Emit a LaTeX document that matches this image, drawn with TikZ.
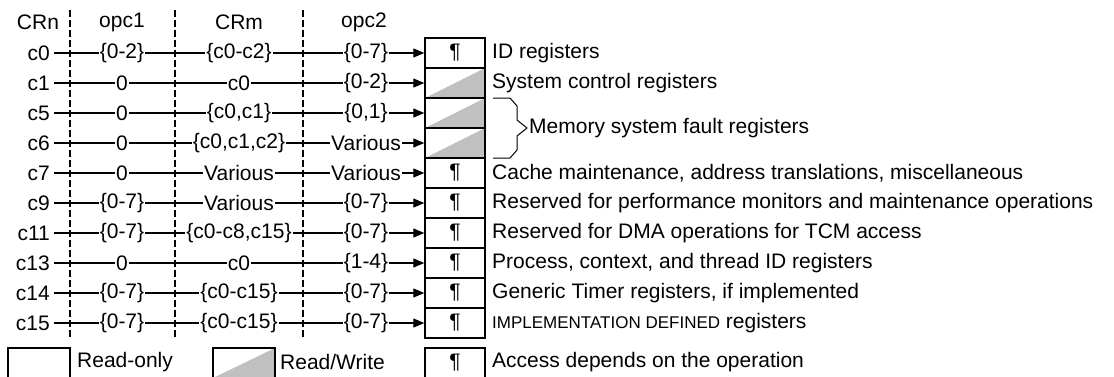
\documentclass[tikz,border=0pt]{standalone}
\usepackage{fontspec}
\setmainfont{Liberation Sans}
\usetikzlibrary{arrows.meta}
\definecolor{rwgray}{RGB}{192,192,192}
\newcommand\regrow[7]{%
  \node[rowlab] (#1) at (54,#2) {#1};
  \node[lab] (#1a) at (122,#2) {#3};
  \node[lab] (#1b) at (239,#2) {#4};
  \node[lab] (#1c) at (366,#2) {#5};
  \node[#6] (#1x) at (455,#2) {#7};
  \draw[conn] (#1) -- (#1a);
  \draw[conn] (#1a) -- (#1b);
  \draw[conn] (#1b) -- (#1c);
  \draw[conn,-{Triangle[length=11pt,width=9pt]}] (#1c) -- (#1x);
}
\begin{document}
\begin{tikzpicture}[x=1pt,y=-1pt,
  every node/.style={font=\fontsize{21}{24}\selectfont},
  rowlab/.style={anchor=east,inner xsep=4pt,inner ysep=0pt},
  lab/.style={inner xsep=1pt,inner ysep=0pt},
  head/.style={inner sep=0pt},
  conn/.style={line width=1.2pt},
  regbox/.style={draw,line width=1.4pt,minimum width=60pt,minimum height=30pt,inner sep=0pt},
  pbox/.style={regbox},
  rwbox/.style={regbox,path picture={\fill[rwgray] (path picture bounding box.south west) -- (path picture bounding box.north east) -- (path picture bounding box.south east) -- cycle;}},
  desc/.style={anchor=west,inner xsep=2pt,inner ysep=0pt},
  sep/.style={line width=2.4pt,dash pattern=on 7pt off 3pt},
]
\useasboundingbox (0,0) rectangle (1114,376);
% column separators
\coordinate (s1t) at (70,9.5);  \coordinate (s1b) at (70,336.5);
\coordinate (s2t) at (175,9.5); \coordinate (s2b) at (175,336.5);
\coordinate (s3t) at (303,9.5); \coordinate (s3b) at (303,336.5);
\draw[sep] (s1t) -- (s1b);
\draw[sep] (s2t) -- (s2b);
\draw[sep] (s3t) -- (s3b);
% headers
\node[head] (hCRn) at (38,22) {CRn};
\node[head] (hopc1) at (122,22) {opc1};
\node[head] (hCRm) at (239,22) {CRm};
\node[head] (hopc2) at (364,22) {opc2};
% rows
\regrow{c0}{53}{\{0-2\}}{\{c0-c2\}}{\{0-7\}}{pbox}{¶}
\regrow{c1}{83}{0}{c0}{\{0-2\}}{rwbox}{}
\regrow{c5}{113}{0}{\{c0,c1\}}{\{0,1\}}{rwbox}{}
\regrow{c6}{143}{0}{\{c0,c1,c2\}}{Various}{rwbox}{}
\regrow{c7}{173}{0}{Various}{Various}{pbox}{¶}
\regrow{c9}{203}{\{0-7\}}{Various}{\{0-7\}}{pbox}{¶}
\regrow{c11}{233}{\{0-7\}}{\{c0-c8,c15\}}{\{0-7\}}{pbox}{¶}
\regrow{c13}{263}{0}{c0}{\{1-4\}}{pbox}{¶}
\regrow{c14}{293}{\{0-7\}}{\{c0-c15\}}{\{0-7\}}{pbox}{¶}
\regrow{c15}{323}{\{0-7\}}{\{c0-c15\}}{\{0-7\}}{pbox}{¶}
% descriptions
\node[desc] (d0) at (490,53) {ID registers};
\node[desc] (d1) at (490,83) {System control registers};
\node[desc] (d56) at (527,128) {Memory system fault registers};
\node[desc] (d7) at (490,173) {Cache maintenance, address translations, miscellaneous};
\node[desc] (d9) at (490,203) {Reserved for performance monitors and maintenance operations};
\node[desc] (d11) at (490,233) {Reserved for DMA operations for TCM access};
\node[desc] (d13) at (490,263) {Process, context, and thread ID registers};
\node[desc] (d14) at (490,293) {Generic Timer registers, if implemented};
\node[desc] (d15) at (490,323) {{\fontsize{17}{20}\selectfont IMPLEMENTATION DEFINED} registers};
% brace
\draw[line width=1pt,line join=round] (493,98) -- (510,98) -- (517,106) -- (517,120) -- (527,128) -- (517,136) -- (517,150) -- (510,158) -- (493,158);
% legend
\node[regbox,minimum width=62pt] (lro) at (39,363) {};
\node[desc] (tro) at (75,362) {Read-only};
\node[rwbox,minimum width=62pt] (lrw) at (244,363) {};
\node[desc] (trw) at (278,362) {Read/Write};
\node[pbox] (lp) at (455,363) {¶};
\node[desc] (tp) at (490,362) {Access depends on the operation};
\end{tikzpicture}
\end{document}
